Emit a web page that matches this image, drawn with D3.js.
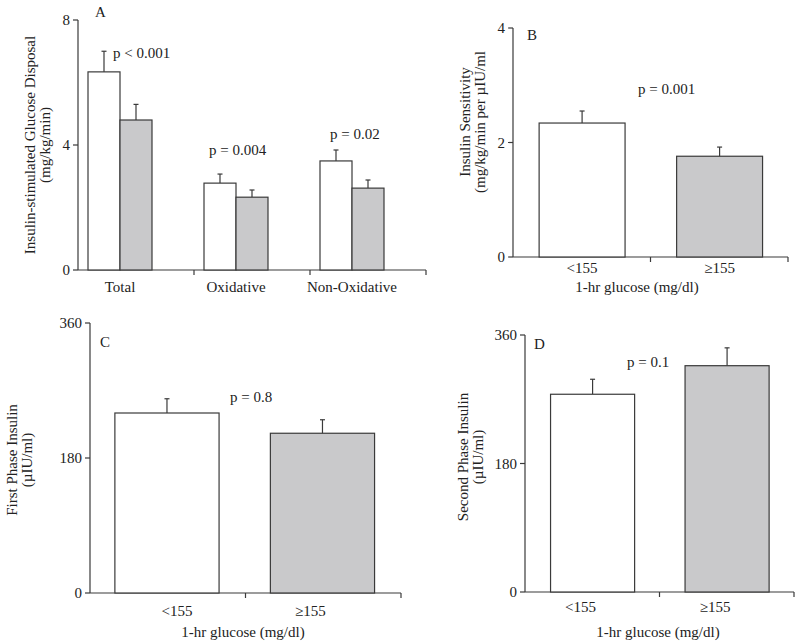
<!DOCTYPE html>
<html><head><meta charset="utf-8">
<script src="https://cdn.jsdelivr.net/npm/d3@7"></script>
<style>body{margin:0;background:#fff}svg{display:block}text{font-family:"Liberation Serif","Times New Roman",serif;fill:#222}</style>
</head><body><svg id="c" width="800" height="644"></svg>
<script>
// ---- data ----
const catsA = ["Total", "Oxidative", "Non-Oxidative"];
const aLow = [6.34, 2.78, 3.49];
const aLowErr = [0.66, 0.29, 0.35];
const aHigh = [4.8, 2.33, 2.62];
const aHighErr = [0.5, 0.23, 0.26];
const pA = ["p < 0.001", "p = 0.004", "p = 0.02"];
const yTicksA = [0, 4, 8];

const groups = ["<155", "\u2265155"];
const bVals = [2.34, 1.76];
const bErr = [0.21, 0.16];
const yTicksB = [0, 2, 4];
const cVals = [240, 213];
const cErr = [19, 18];
const yTicksC = [0, 180, 360];
const dVals = [277, 317];
const dErr = [21, 25];
const yTicksD = [0, 180, 360];

const svg = d3.select("#c");
const stroke = "#3a3a3a", gray = "#c9c9cb";
const FS = 15;

function axes(g, x0, x1, y, bandTicks, yT) {
  g.append("line").attr("x1", x0).attr("x2", x0).attr("y1", y(yT[yT.length-1])).attr("y2", y(0)).attr("stroke", stroke).attr("stroke-width", 1.2);
  yT.forEach(t => {
    g.append("line").attr("x1", x0-5).attr("x2", x0).attr("y1", y(t)).attr("y2", y(t)).attr("stroke", stroke).attr("stroke-width", 1.2);
    g.append("text").attr("x", x0-8).attr("y", y(t)).attr("dy", "0.35em").attr("text-anchor", "end").attr("font-size", FS).text(t);
  });
  g.append("line").attr("x1", x0).attr("x2", x1).attr("y1", y(0)).attr("y2", y(0)).attr("stroke", stroke).attr("stroke-width", 1.2);
  bandTicks.forEach(tx => {
    g.append("line").attr("x1", tx).attr("x2", tx).attr("y1", y(0)).attr("y2", y(0)+5).attr("stroke", stroke).attr("stroke-width", 1.2);
  });
}

function bar(g, x, w, y, v, e, fill) {
  g.append("line").attr("x1", x+w/2).attr("x2", x+w/2).attr("y1", y(v)).attr("y2", y(v+e)).attr("stroke", stroke).attr("stroke-width", 1.2);
  g.append("line").attr("x1", x+w/2-2.5).attr("x2", x+w/2+2.5).attr("y1", y(v+e)).attr("y2", y(v+e)).attr("stroke", stroke).attr("stroke-width", 1.2);
  g.append("rect").attr("x", x).attr("y", y(v)).attr("width", w).attr("height", y(0)-y(v)).attr("fill", fill).attr("stroke", stroke).attr("stroke-width", 1.2);
}

function ytitle(g, cx, cy, lines) {
  lines.forEach((l, i) => {
    g.append("text").attr("transform", `translate(${cx + i*15},${cy}) rotate(-90)`).attr("text-anchor", "middle").attr("dy", "0.35em").attr("font-size", FS).text(l);
  });
}

// ---- Panel A ----
{
  const g = svg.append("g");
  const x = d3.scaleBand().domain(catsA).range([78, 426]).padding(0);
  const y = d3.scaleLinear().domain([0, 8]).range([270, 20]);
  const step = x.step();
  axes(g, 78, 426, y, catsA.map(c => x(c) + step), yTicksA);
  catsA.forEach((c, i) => {
    const s = x(c) + 10;
    bar(g, s, 32, y, aLow[i], aLowErr[i], "#fff");
    bar(g, s + 32, 32, y, aHigh[i], aHighErr[i], gray);
    g.append("text").attr("x", s + 32).attr("y", 287).attr("dy", "0.35em").attr("text-anchor", "middle").attr("font-size", FS).text(c);
  });
  g.append("text").attr("x", 113).attr("y", 53).attr("dy", "0.35em").attr("font-size", FS).text(pA[0]);
  g.append("text").attr("x", 209).attr("y", 150).attr("dy", "0.35em").attr("font-size", FS).text(pA[1]);
  g.append("text").attr("x", 330).attr("y", 134).attr("dy", "0.35em").attr("font-size", FS).text(pA[2]);
  g.append("text").attr("x", 95).attr("y", 12).attr("dy", "0.35em").attr("font-size", FS).text("A");
  ytitle(g, 30, 145, ["Insulin-stimulated Glucose Disposal", "(mg/kg/min)"]);
}

function twoBar(opts) {
  const g = svg.append("g");
  const x = d3.scaleBand().domain(groups).range([opts.x0, opts.x1]).padding(0);
  const y = d3.scaleLinear().domain([0, opts.yT[opts.yT.length-1]]).range([opts.yb, opts.yt]);
  const step = x.step();
  axes(g, opts.x0, opts.x1, y, groups.map(c => x(c) + step), opts.yT);
  groups.forEach((c, i) => {
    const s = x(c) + step*opts.off, w = step*opts.wr;
    bar(g, s, w, y, opts.vals[i], opts.err[i], i === 0 ? "#fff" : gray);
    g.append("text").attr("x", s + w/2 + opts.shift[i]).attr("y", y(0) + opts.tlOff).attr("dy", "0.35em").attr("text-anchor", "middle").attr("font-size", FS).text(c);
  });
  g.append("text").attr("x", opts.xtX).attr("y", opts.xtY).attr("dy", "0.35em").attr("text-anchor", "middle").attr("font-size", FS).text("1-hr glucose (mg/dl)");
  g.append("text").attr("x", opts.px).attr("y", opts.py).attr("dy", "0.35em").attr("font-size", FS).text(opts.p);
  g.append("text").attr("x", opts.lx).attr("y", opts.ly).attr("dy", "0.35em").attr("font-size", FS).text(opts.letter);
  ytitle(g, opts.tx, opts.ty, opts.title);
}

twoBar({x0: 513, x1: 788, yb: 257, yt: 28, yT: yTicksB, vals: bVals, err: bErr, off: 0.19, wr: 0.625, shift: [0, 0], tlOff: 11,
  xtX: 637, xtY: 287, p: "p = 0.001", px: 638, py: 89, letter: "B", lx: 527, ly: 35, tx: 465, ty: 122,
  title: ["Insulin Sensitivity", "(mg/kg/min per \u00b5IU/ml"]});
twoBar({x0: 90, x1: 401, yb: 593, yt: 323, yT: yTicksC, vals: cVals, err: cErr, off: 0.16, wr: 0.67, shift: [10, -12], tlOff: 18,
  xtX: 243, xtY: 632, p: "p = 0.8", px: 230, py: 397, letter: "C", lx: 100, ly: 342, tx: 12, ty: 460,
  title: ["First Phase Insulin", "(\u00b5IU/ml)"]});
twoBar({x0: 525, x1: 794, yb: 592, yt: 335, yT: yTicksD, vals: dVals, err: dErr, off: 0.19, wr: 0.625, shift: [-12, -12], tlOff: 15,
  xtX: 658, xtY: 632, p: "p = 0.1", px: 627, py: 362, letter: "D", lx: 534, ly: 344, tx: 463, ty: 457,
  title: ["Second Phase Insulin", "(\u00b5IU/ml)"]});
</script></body></html>
